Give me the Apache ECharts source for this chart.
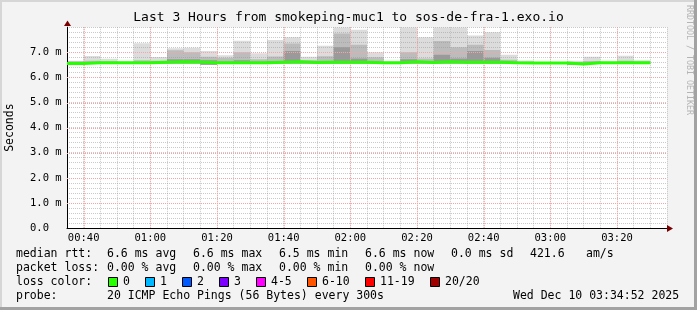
<!DOCTYPE html>
<html><head><meta charset="utf-8">
<script src="https://cdn.jsdelivr.net/npm/echarts@6/dist/echarts.min.js"></script>
<style>html,body{margin:0;padding:0;background:#f3f3f3}#c{width:697px;height:310px}</style>
</head><body><div id="c"></div>
<script>
// ---- data ----
const times = ['00:35','00:40','00:45','00:50','00:55','01:00','01:05','01:10','01:15','01:20',
               '01:25','01:30','01:35','01:40','01:45','01:50','01:55','02:00','02:05','02:10',
               '02:15','02:20','02:25','02:30','02:35','02:40','02:45','02:50','02:55','03:00',
               '03:05','03:10','03:15','03:20','03:25'];
const dataEnd = '03:30';
// median rtt in ms
const median = [6.55,6.58,6.58,6.58,6.58,6.60,6.62,6.61,6.58,6.58,
                6.58,6.58,6.60,6.62,6.59,6.60,6.60,6.60,6.58,6.58,
                6.62,6.59,6.62,6.60,6.60,6.60,6.58,6.57,6.57,6.57,
                6.53,6.58,6.58,6.58,6.58];
// smoke: bottom, dark band top, medium band top, maximum (ms)
const smokeLo   = [6.54,6.55,6.55,6.55,6.55,6.55,6.55,6.55,6.50,6.55,
                   6.55,6.55,6.55,6.55,6.55,6.55,6.55,6.55,6.55,6.55,
                   6.55,6.55,6.55,6.55,6.55,6.55,6.55,6.55,6.55,6.55,
                   6.50,6.55,6.55,6.55,6.55];
const smokeDark = [6.60,6.60,6.60,6.58,6.60,6.62,6.72,6.72,6.68,6.62,
                   6.68,6.62,6.65,7.05,6.60,6.65,7.20,6.75,6.62,6.58,
                   6.72,6.62,6.90,6.75,7.05,6.78,6.60,6.58,6.57,6.57,
                   6.55,6.58,6.57,6.58,6.58];
const smokeMid  = [6.64,6.66,6.63,6.60,6.68,6.66,7.08,7.00,6.82,6.78,
                   7.00,6.72,6.83,7.35,6.68,6.84,7.75,7.30,6.80,6.60,
                   7.00,6.75,7.45,7.20,7.30,7.09,6.70,6.62,6.58,6.58,
                   6.60,6.65,6.58,6.66,6.62];
const smokeMax  = [6.66,6.85,6.74,6.62,7.36,6.81,7.16,7.18,7.05,6.88,
                   7.46,6.96,7.49,7.60,6.82,7.26,8.00,7.90,7.00,6.62,
                   8.00,7.60,8.00,8.00,7.67,7.80,6.90,6.67,6.60,6.60,
                   6.66,6.82,6.60,6.86,6.68];
const xTickLabels = ['00:40','01:00','01:20','01:40','02:00','02:20','02:40','03:00','03:20'];
const yTickValues = [0,1,2,3,4,5,6,7];
const yTickLabels = ['0.0','1.0 m','2.0 m','3.0 m','4.0 m','5.0 m','6.0 m','7.0 m'];
const titleText = 'Last 3 Hours from smokeping-muc1 to sos-de-fra-1.exo.io';
const rttStats  = ['6.6 ms avg','6.6 ms max','6.5 ms min','6.6 ms now','0.0 ms sd','421.6','am/s'];
const lossStats = ['0.00 % avg','0.00 % max','0.00 % min','0.00 % now'];
const lossLabels = ['0','1','2','3','4-5','6-10','11-19','20/20'];
const lossColors = ['#26ff00','#00b8ff','#0059ff','#7e00ff','#ff00ff','#ff5500','#ff0000','#a10000'];
const probeText = '20 ICMP Echo Pings (56 Bytes) every 300s';
const dateText = 'Wed Dec 10 03:34:52 2025';

// ---- helpers ----
const toMin = t => { const [h, m] = t.split(':'); return parseInt(h, 10) * 60 + parseInt(m, 10); };
const STEP = 5;
const MONO = '"DejaVu Sans Mono", monospace';
const X_MIN = toMin(times[0]), X_MAX = X_MIN + 180;

const chart = echarts.init(document.getElementById('c'), null, { renderer: 'canvas' });

const g = [];
// frame
g.push({ type: 'rect', shape: { x: 0, y: 0, width: 697, height: 2 }, style: { fill: '#d6d6d6' }, silent: true });
g.push({ type: 'rect', shape: { x: 0, y: 0, width: 2, height: 310 }, style: { fill: '#d6d6d6' }, silent: true });
g.push({ type: 'rect', shape: { x: 694, y: 0, width: 3, height: 310 }, style: { fill: '#a2a2a2' }, silent: true });
g.push({ type: 'rect', shape: { x: 0, y: 307, width: 697, height: 3 }, style: { fill: '#a2a2a2' }, silent: true });
// axis arrows
g.push({ type: 'polygon', shape: { points: [[667, 225], [673, 228.5], [667, 232]] }, style: { fill: '#7a0000' }, z: 50 });
g.push({ type: 'polygon', shape: { points: [[64, 26], [67.5, 20.5], [71, 26]] }, style: { fill: '#7a0000' }, z: 50 });
// vendor text
g.push({ type: 'text', x: 689, y: 5, rotation: -Math.PI / 2,
  style: { text: 'RRDTOOL / TOBI OETIKER', font: '8.3px ' + MONO, fill: '#b4b4b4', textAlign: 'left', textVerticalAlign: 'middle' } });

function txt(s, x, y) {
  g.push({ type: 'text', x: x, y: y, style: { text: s, font: '11.5px ' + MONO, fill: '#000', textAlign: 'left', textVerticalAlign: 'middle' } });
}
const colX = [107, 193, 279, 365, 451, 530, 586];
txt('median rtt:', 16, 254);
rttStats.forEach((s, i) => txt(s, colX[i], 254));
txt('packet loss:', 16, 268);
lossStats.forEach((s, i) => txt(s, colX[i], 268));
txt('loss color:', 16, 282);
const boxX = [108.5, 145.5, 182.5, 219.5, 256.5, 307.5, 365.5, 430.5];
lossLabels.forEach((s, i) => {
  g.push({ type: 'rect', shape: { x: boxX[i], y: 277.5, width: 9, height: 9 }, style: { fill: lossColors[i], stroke: '#000', lineWidth: 1 } });
  txt(s, boxX[i] + 14.5, 282);
});
txt('probe:', 16, 296);
txt(probeText, 107, 296);
txt(dateText, 513, 296);

// major grid (drawn through the axes' scales)
const majorGrid = xTickLabels.map(l => [toMin(l), 0, 0])
  .concat(yTickValues.filter(v => v > 0).map(v => [X_MIN, v, 1]));

const medianData = times.map((t, i) => [toMin(t), median[i]]);
medianData.push([toMin(dataEnd), median[median.length - 1]]);

chart.setOption({
  animation: false,
  backgroundColor: '#f3f3f3',
  title: { text: titleText, left: 'center', top: 11, padding: 0,
    textStyle: { fontFamily: MONO, fontSize: 13, fontWeight: 'normal', color: '#000' } },
  grid: { left: 67, top: 27.2, width: 600, height: 200.8, show: true, backgroundColor: '#ffffff', borderWidth: 0,
    containLabel: false, outerBoundsMode: 'none' },
  xAxis: {
    type: 'value', min: X_MIN, max: X_MAX, interval: STEP, z: 5,
    axisLine: { onZero: false, lineStyle: { color: '#000', width: 1 } },
    axisTick: { show: false },
    splitLine: { show: true, lineStyle: { color: 'rgba(150,150,150,0.5)', type: 'dotted', width: 1 } },
    axisLabel: { margin: 5, fontFamily: MONO, fontSize: 10.5, color: '#000',
      formatter: v => { const i = xTickLabels.findIndex(l => toMin(l) === Math.round(v)); return i >= 0 ? xTickLabels[i] : ''; } }
  },
  yAxis: {
    type: 'value', min: 0, max: 8, interval: 0.2, z: 5,
    name: 'Seconds', nameLocation: 'middle', nameGap: 51, nameRotate: 90,
    nameTextStyle: { fontFamily: MONO, fontSize: 11.5, color: '#000' },
    axisLine: { show: true, onZero: false, lineStyle: { color: '#000', width: 1 } },
    axisTick: { show: false },
    splitLine: { show: true, lineStyle: { color: 'rgba(150,150,150,0.5)', type: 'dotted', width: 1 } },
    axisLabel: { margin: 37, align: 'left', fontFamily: MONO, fontSize: 10.5, color: '#000',
      formatter: v => { const r = Math.round(v); if (Math.abs(v - r) > 1e-6) return ''; const i = yTickValues.indexOf(r); return i >= 0 ? yTickLabels[i] : ''; } }
  },
  series: [
    {
      type: 'custom', z: 2, clip: true,
      data: times.map((t, i) => [toMin(t), smokeLo[i], smokeDark[i], smokeMid[i], smokeMax[i]]),
      encode: { x: 0, y: [1, 4] },
      renderItem: (params, api) => {
        const x0 = api.value(0), lo = api.value(1);
        const xa = api.coord([x0, lo])[0], xb = api.coord([x0 + STEP, lo])[0];
        const yBot = api.coord([x0, lo])[1];
        const rect = (top, fill) => {
          const yTop = api.coord([x0, top])[1];
          return { type: 'rect', shape: { x: xa, y: yTop, width: xb - xa, height: Math.max(0, yBot - yTop) }, style: { fill: fill } };
        };
        return { type: 'group', children: [rect(api.value(4), '#dcdcdc'), rect(api.value(3), '#bcbcbc'), rect(api.value(2), '#9a9a9a')] };
      }
    },
    {
      type: 'custom', z: 8, silent: true,
      data: majorGrid,
      encode: { x: 0, y: 1 },
      renderItem: (params, api) => {
        const cs = params.coordSys;
        const p = api.coord([api.value(0), api.value(1)]);
        let shape;
        if (api.value(2) === 0) {
          const x = Math.round(p[0]) + 0.5;
          shape = { x1: x, y1: cs.y, x2: x, y2: cs.y + cs.height };
        } else {
          const y = Math.round(p[1]) + 0.5;
          shape = { x1: cs.x, y1: y, x2: cs.x + cs.width, y2: y };
        }
        return { type: 'line', shape: shape, style: { stroke: '#f5a5a5', lineWidth: 1, lineDash: [1, 1] } };
      }
    },
    {
      type: 'line', z: 20, step: 'end', showSymbol: false, symbol: 'none',
      data: medianData,
      lineStyle: { color: lossColors[0], width: 3 }
    }
  ],
  graphic: g
});
</script>
</body></html>
